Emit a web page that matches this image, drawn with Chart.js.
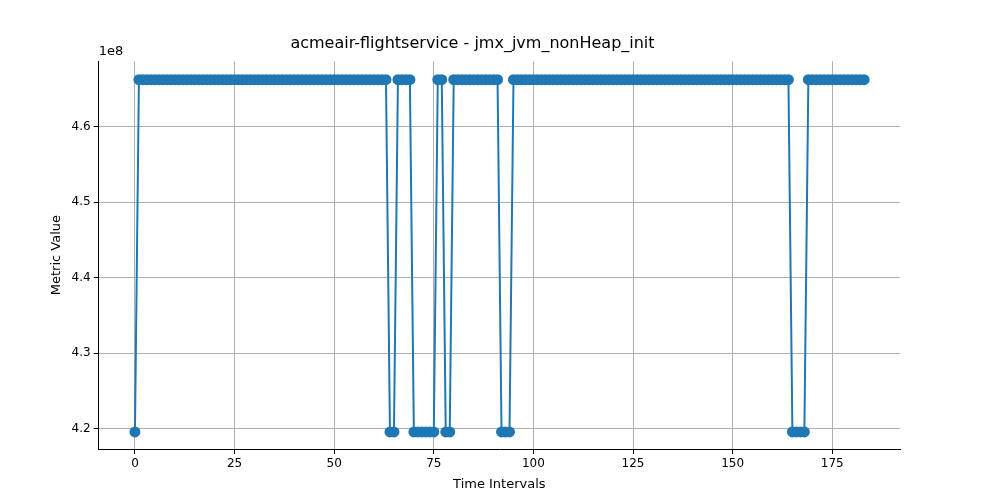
<!DOCTYPE html>
<html>
<head>
<script src="https://cdn.jsdelivr.net/npm/chart.js@4"></script>
<style>
body { margin: 0; background: #fff; }
</style>
</head>
<body>
<canvas id="chart" width="1000" height="500"></canvas>
<script>
const H = 466200000;
const L = 419600000;
const metricValues = [
    L,H,H,H,H,H,H,H,H,H,
    H,H,H,H,H,H,H,H,H,H,
    H,H,H,H,H,H,H,H,H,H,
    H,H,H,H,H,H,H,H,H,H,
    H,H,H,H,H,H,H,H,H,H,
    H,H,H,H,H,H,H,H,H,H,
    H,H,H,H,L,L,H,H,H,H,
    L,L,L,L,L,L,H,H,L,L,
    H,H,H,H,H,H,H,H,H,H,
    H,H,L,L,L,H,H,H,H,H,
    H,H,H,H,H,H,H,H,H,H,
    H,H,H,H,H,H,H,H,H,H,
    H,H,H,H,H,H,H,H,H,H,
    H,H,H,H,H,H,H,H,H,H,
    H,H,H,H,H,H,H,H,H,H,
    H,H,H,H,H,H,H,H,H,H,
    H,H,H,H,H,L,L,L,L,H,
    H,H,H,H,H,H,H,H,H,H,
    H,H,H,H
];
const xTicks = [0, 25, 50, 75, 100, 125, 150, 175];
const yTicks = [420000000, 430000000, 440000000, 450000000, 460000000];
const points = metricValues.map((v, i) => ({ x: i, y: v }));

const offsetLabel = {
    id: 'offsetLabel',
    afterDraw(chart) {
        const { ctx, chartArea } = chart;
        ctx.save();
        ctx.font = '13px "DejaVu Sans"';
        ctx.fillStyle = '#000';
        ctx.textAlign = 'left';
        ctx.textBaseline = 'bottom';
        ctx.fillText('1e8', chartArea.left, chartArea.top - 3);
        ctx.restore();
    }
};

Chart.defaults.font.family = '"DejaVu Sans", sans-serif';
Chart.defaults.color = '#000';

new Chart(document.getElementById('chart').getContext('2d'), {
    type: 'line',
    data: {
        datasets: [{
            data: points,
            borderColor: '#1f77b4',
            backgroundColor: '#1f77b4',
            borderWidth: 2,
            pointRadius: 4.5,
            pointHoverRadius: 4.5,
            tension: 0
        }]
    },
    options: {
        responsive: false,
        animation: false,
        devicePixelRatio: 1,
        layout: { padding: { left: 45, right: 100, top: 10, bottom: 6 } },
        plugins: {
            legend: { display: false },
            tooltip: { enabled: false },
            title: {
                display: true,
                text: 'acmeair-flightservice - jmx_jvm_nonHeap_init',
                font: { size: 16, weight: 'normal' },
                padding: { top: 24, bottom: 8 }
            }
        },
        scales: {
            x: {
                type: 'linear',
                min: -9.1,
                max: 192,
                afterBuildTicks: axis => { axis.ticks = xTicks.map(v => ({ value: v })); },
                ticks: { font: { size: 12 }, maxRotation: 0 },
                grid: { color: '#b0b0b0', tickColor: '#000', tickLength: 5 },
                border: { color: '#000' },
                title: { display: true, text: 'Time Intervals', font: { size: 13 }, padding: 2 }
            },
            y: {
                min: 417340000,
                max: 468640000,
                afterBuildTicks: axis => { axis.ticks = yTicks.map(v => ({ value: v })); },
                ticks: { font: { size: 12 }, callback: v => (v / 1e8).toFixed(1) },
                grid: { color: '#b0b0b0', tickColor: '#000', tickLength: 5 },
                border: { color: '#000' },
                title: { display: true, text: 'Metric Value', font: { size: 13 } }
            }
        }
    },
    plugins: [offsetLabel]
});
</script>
</body>
</html>
